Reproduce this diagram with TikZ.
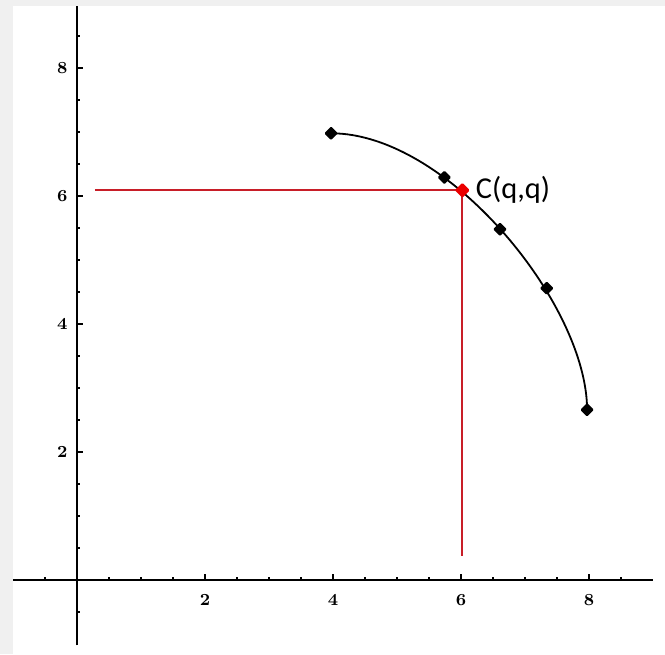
\documentclass[tikz,border=0pt]{standalone}
\usepackage{fontspec}
\newfontfamily\calfont{Carlito}
\usetikzlibrary{shapes.geometric,positioning,calc}
\definecolor{FrameGray}{RGB}{240,240,240}
\definecolor{GuideRed}{RGB}{200,30,40}
\definecolor{PointRed}{RGB}{235,0,0}

\begin{document}
\begin{tikzpicture}[
    node distance=0.08cm,
    axis/.style={line width=1.1pt, draw=black},
    tickmark/.style={line width=0.8pt, draw=black},
    ticklabel/.style={
      inner sep=0pt, font=\fontsize{7.5}{8}\selectfont\bfseries
    },
    dot/.style={
      diamond, fill=black, rounded corners=0.5pt, inner sep=0pt, minimum size=0.22cm
    },
    reddot/.style={
      diamond, fill=PointRed, rounded corners=0.5pt, inner sep=0pt, minimum size=0.24cm
    },
    guide/.style={line width=0.9pt, draw=GuideRed},
    curve/.style={line width=0.8pt, draw=black}
  ]
    % frame
    \fill[FrameGray] (-1.203,-1.156) rectangle (9.1875,9.0625);
    \fill[white] (-1.0,-1.156) rectangle (9.1875,8.97);
    \useasboundingbox (-1.203,-1.156) rectangle (9.1875,9.0625);

    % axes
    \coordinate (xmin) at (-1.0,0);
    \coordinate (xmax) at (9.0,0);
    \coordinate (ymin) at (0,-1.02);
    \coordinate (ymax) at (0,8.97);
    \draw[axis] (xmin) -- (xmax);
    \draw[axis] (ymin) -- (ymax);

    % ticks
    \foreach \t in {-0.5,0.5,1,1.5,2.5,3,3.5,4.5,5,5.5,6.5,7,7.5,8.5} {
      \draw[tickmark] (\t,0) -- ++(0,0.05);
      \draw[tickmark] (0,\t) -- ++(0.05,0);
    }
    \foreach \t in {2,4,6,8} {
      \draw[tickmark] (\t,0) -- ++(0,0.09);
      \draw[tickmark] (0,\t) -- ++(0.09,0);
      \node[ticklabel] (xl\t) at (\t,-0.31) {\t};
      \node[ticklabel] (yl\t) at (-0.23,\t) {\t};
    }

    % curve
    \coordinate (cstart) at (3.97,6.98);
    \coordinate (cend) at (7.97,2.66);
    \draw[curve] (cstart) .. controls (5.8,6.98) and (7.97,4.3) .. (cend);

    % red guides
    \coordinate (cpt) at (6.02,6.09);
    \coordinate (hstart) at (0.28,6.09);
    \coordinate (vend) at (6.02,0.38);
    \draw[guide] (hstart) -- (cpt);
    \draw[guide] (cpt) -- (vend);
    \node[reddot] (Cq) at (cpt) {};

    % points
    \node[dot] (p1) at (3.97,6.98) {};
    \node[dot] (p2) at (5.74,6.29) {};
    \node[dot] (p3) at (6.61,5.48) {};
    \node[dot] (p4) at (7.34,4.56) {};
    \node[dot] (p5) at (7.97,2.66) {};

    \node[inner sep=0pt, right=of Cq, font=\calfont\fontsize{13.5}{16}\selectfont] (Clabel) {C(q,q)};
  \end{tikzpicture}
\end{document}
